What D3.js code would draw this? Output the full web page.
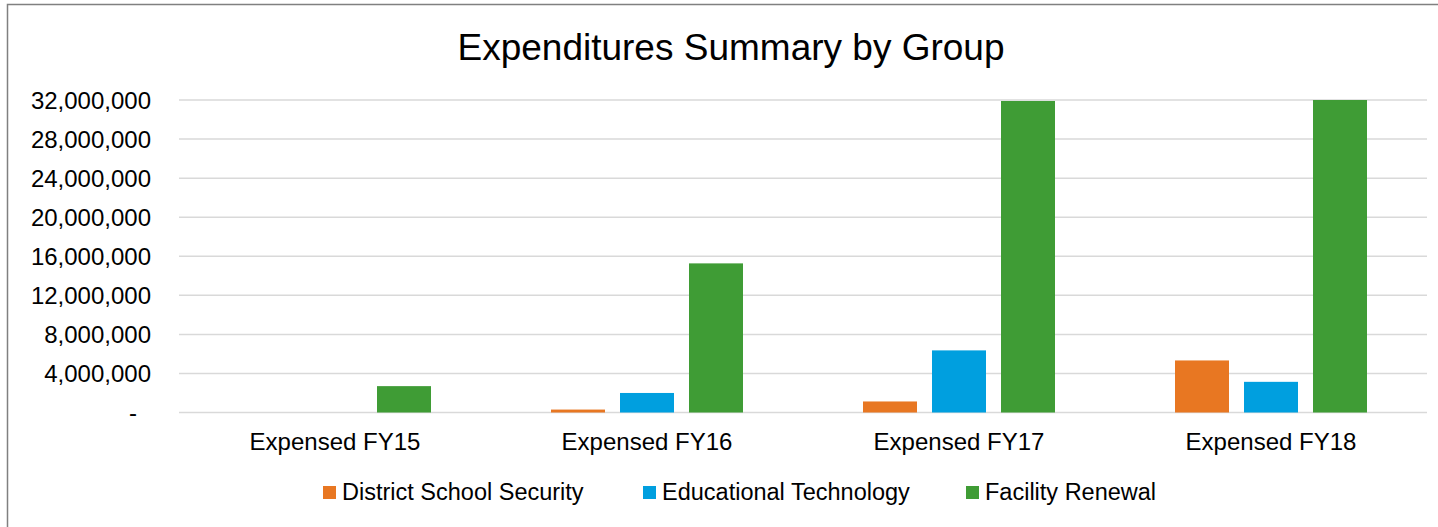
<!DOCTYPE html>
<html><head><meta charset="utf-8">
<script src="https://cdn.jsdelivr.net/npm/d3@7"></script>
<style>html,body{margin:0;padding:0;background:#fff;}svg{display:block;font-family:"Liberation Sans",Arial,sans-serif;}</style>
</head><body>
<svg id="c" width="1438" height="527"></svg>
<script>
const categories = ["Expensed FY15","Expensed FY16","Expensed FY17","Expensed FY18"];
const seriesNames = ["District School Security","Educational Technology","Facility Renewal"];
const districtSchoolSecurity = [0, 300000, 1130000, 5330000];
const educationalTechnology = [0, 2000000, 6360000, 3140000];
const facilityRenewal = [2700000, 15270000, 31900000, 32000000];
const seriesValues = [districtSchoolSecurity, educationalTechnology, facilityRenewal];
const colors = ["#e87722", "#009fdf", "#3f9c35"];
const yTicks = [0,4000000,8000000,12000000,16000000,20000000,24000000,28000000,32000000];

(function(){
const svg = d3.select("#c");
svg.append("rect").attr("x",7.5).attr("y",4.5).attr("width",1440).attr("height",540)
  .attr("fill","none").attr("stroke","#808080").attr("stroke-width",1.5);

svg.append("text").attr("x",731).attr("y",60).attr("text-anchor","middle")
  .attr("font-size",37).attr("fill","#000").text("Expenditures Summary by Group");

const pLeft=179, pRight=1427, pTop=100, pBottom=412.5;
const y = d3.scaleLinear().domain([0,32000000]).range([pBottom, pTop]);
const x0 = d3.scaleBand().domain(categories).range([pLeft,pRight]).padding(0);
const x1 = d3.scaleBand().domain(seriesNames).range([60, x0.bandwidth()-60]).paddingInner(15/69).paddingOuter(0);

svg.append("g").selectAll("line").data(yTicks).join("line")
  .attr("x1",pLeft).attr("x2",pRight).attr("y1",d=>y(d)).attr("y2",d=>y(d))
  .attr("stroke","#d9d9d9").attr("stroke-width",1.5);

const fmt = d => d===0 ? "-" : d3.format(",")(d);
const yAxis = d3.axisLeft(y).tickValues(yTicks).tickFormat(fmt).tickSize(0).tickPadding(0);
const ya = svg.append("g").attr("transform",`translate(151,0)`).call(yAxis);
ya.select(".domain").remove();
ya.selectAll("text").attr("font-size",24).attr("fill","#000").attr("font-family","Liberation Sans, Arial, sans-serif")
  .attr("dy","0.35em").attr("x", d => d===0 ? -14 : 0);

const groups = svg.append("g").selectAll("g").data(categories).join("g")
  .attr("transform",d=>`translate(${x0(d)},0)`);
groups.selectAll("rect").data((d,i)=>seriesNames.map((s,j)=>({s, v:seriesValues[j][i], c:colors[j]})))
  .join("rect").filter(d=>d.v>0)
  .attr("x",d=>x1(d.s)).attr("width",x1.bandwidth())
  .attr("y",d=>y(d.v)).attr("height",d=>y(0)-y(d.v)).attr("fill",d=>d.c);

const xAxis = d3.axisBottom(x0).tickSize(0).tickPadding(0);
const xa = svg.append("g").attr("transform",`translate(0,${pBottom})`).call(xAxis);
xa.select(".domain").remove();
xa.selectAll("text").attr("font-size",24).attr("fill","#000").attr("font-family","Liberation Sans, Arial, sans-serif")
  .attr("y",37).attr("dy",0);

const legX = [323, 643, 966];
const leg = svg.append("g").selectAll("g").data(seriesNames).join("g")
  .attr("transform",(d,i)=>`translate(${legX[i]},486)`);
leg.append("rect").attr("width",13).attr("height",13).attr("fill",(d,i)=>colors[i]);
leg.append("text").attr("x",19).attr("y",14).attr("font-size",23.5).attr("fill","#000").text(d=>d);
})();
</script>
</body></html>
